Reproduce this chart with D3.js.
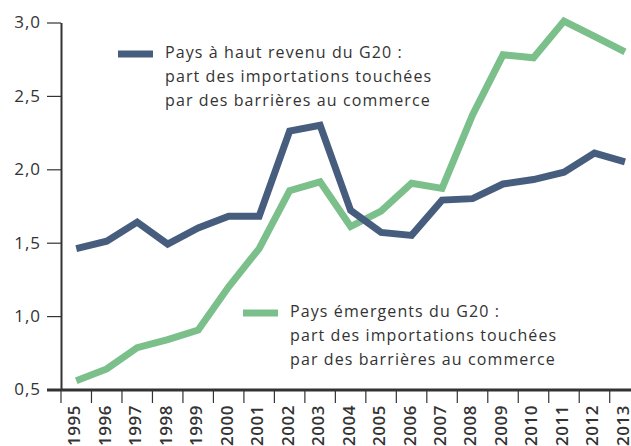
<!DOCTYPE html>
<html>
<head>
<meta charset="utf-8">
<script src="https://cdn.jsdelivr.net/npm/d3@7"></script>
<style>
	body { margin: 0; background: #fff; }
	svg { display: block; font-family: "Open Sans", sans-serif; }
</style>
</head>
<body>
<svg width="631" height="446"></svg>
<script>
// years on the x axis
const years = [1995, 1996, 1997, 1998, 1999, 2000, 2001, 2002, 2003, 2004,
	2005, 2006, 2007, 2008, 2009, 2010, 2011, 2012, 2013];
// G20 high income countries
const highIncome = [1.46, 1.51, 1.64, 1.49, 1.6, 1.68, 1.68, 2.26, 2.3, 1.72,
	1.57, 1.55, 1.79, 1.8, 1.9, 1.93, 1.98, 2.11, 2.05];
// G20 emerging countries
const emerging = [0.56, 0.64, 0.785, 0.84, 0.905, 1.2, 1.46, 1.855, 1.915, 1.61,
	1.715, 1.905, 1.87, 2.37, 2.78, 2.76, 3.01, 2.905, 2.8];
const yTicks = [0.5, 1.0, 1.5, 2.0, 2.5, 3.0];
const legendHigh = ["Pays à haut revenu du G20 :", "part des importations touchées", "par des barrières au commerce"];
const legendEmerging = ["Pays émergents du G20 :", "part des importations touchées", "par des barrières au commerce"];

const blue = "#465d7e";
const green = "#7bbf8b";
const ink = "#333";

const svg = d3.select("svg");

const xScale = d3.scaleBand().domain(years).range([61, 640.2]).padding(0);
const yScale = d3.scaleLinear().domain([0.5, 3.0]).range([389.5, 22.5]);
const cx = (d) => xScale(d) + xScale.bandwidth() / 2;

// y axis
const yAxis = svg.append("g")
	.attr("transform", "translate(61,0)")
	.call(d3.axisLeft(yScale)
		.tickValues(yTicks)
		.tickSize(14)
		.tickSizeOuter(0)
		.tickPadding(6)
		.tickFormat((d) => d3.format(".1f")(d).replace(".", ",")));
yAxis.select(".domain").attr("stroke", ink).attr("stroke-width", 2);
yAxis.selectAll(".tick line").attr("stroke", ink).attr("stroke-width", 1.2);
yAxis.selectAll(".tick text")
	.attr("fill", ink)
	.attr("font-size", "17px")
	.attr("letter-spacing", "1px")
	.attr("font-family", "Open Sans, sans-serif");

// x axis: ticks sit between the years, labels in the middle
const xAxis = svg.append("g");
xAxis.append("line")
	.attr("x1", 47)
	.attr("x2", 631)
	.attr("y1", 390)
	.attr("y2", 390)
	.attr("stroke", ink)
	.attr("stroke-width", 3);
xAxis.selectAll(".xtick")
	.data(years)
	.join("line")
	.attr("class", "xtick")
	.attr("x1", (d) => xScale(d))
	.attr("x2", (d) => xScale(d))
	.attr("y1", 390)
	.attr("y2", 403)
	.attr("stroke", ink)
	.attr("stroke-width", 1.2);
xAxis.selectAll(".xlabel")
	.data(years)
	.join("text")
	.attr("class", "xlabel")
	.attr("transform", (d) => "translate(" + (cx(d) - 2) + ",405) rotate(-90)")
	.attr("text-anchor", "end")
	.attr("dy", "0.35em")
	.attr("font-size", "17px")
	.attr("font-weight", 600)
	.attr("letter-spacing", "0.5px")
	.attr("fill", ink)
	.text((d) => d);

// lines
const line = d3.line()
	.x((d, i) => cx(years[i]))
	.y((d) => yScale(d));

svg.append("path")
	.datum(emerging)
	.attr("d", line)
	.attr("fill", "none")
	.attr("stroke", green)
	.attr("stroke-width", 7)
	.attr("stroke-linejoin", "miter");

svg.append("path")
	.datum(highIncome)
	.attr("d", line)
	.attr("fill", "none")
	.attr("stroke", blue)
	.attr("stroke-width", 7)
	.attr("stroke-linejoin", "miter");

// legends
function drawLegend(x, y, color, lines) {
	const g = svg.append("g").attr("transform", "translate(" + x + "," + y + ")");
	g.append("rect")
		.attr("x", 0)
		.attr("y", -3.5)
		.attr("width", 35)
		.attr("height", 7)
		.attr("fill", color);
	g.selectAll("text")
		.data(lines)
		.join("text")
		.attr("x", 47)
		.attr("y", (d, i) => 4 + i * 24)
		.attr("font-size", "16px")
		.attr("letter-spacing", "1.1px")
		.attr("fill", ink)
		.text((d) => d);
}
drawLegend(118, 54, blue, legendHigh);
drawLegend(243, 313, green, legendEmerging);
</script>
</body>
</html>
